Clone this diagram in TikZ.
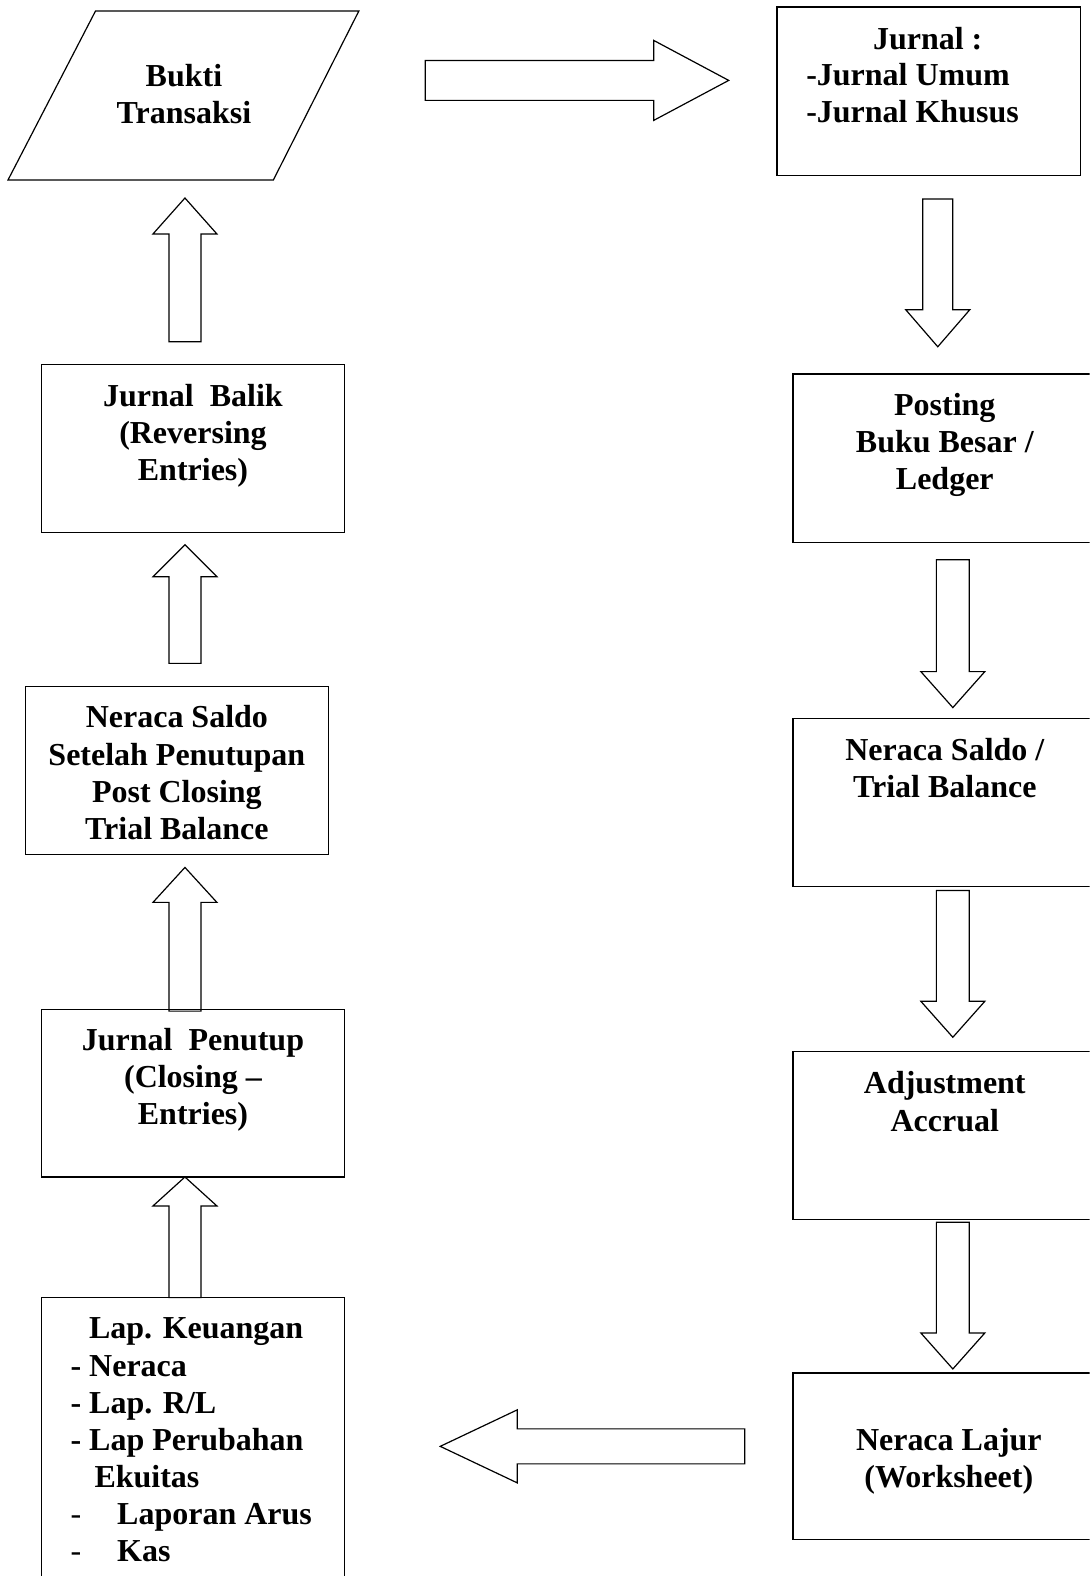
\documentclass[tikz,border=0pt]{standalone}
\usepackage{fontspec}
\setmainfont{Liberation Serif}
\usetikzlibrary{calc,fit}
\newcommand\blockarrow[5]{%
  \coordinate (#1-n) at ($(#2)!#5!(#1)$);
  \draw[barrow] ($(#1)!#3!90:(#2)$) -- ($(#1-n)!#3!90:(#2)$) -- ($(#1-n)!#4!90:(#2)$)
    -- (#2) -- ($(#1-n)!#4!-90:(#2)$) -- ($(#1-n)!#3!-90:(#2)$) -- ($(#1)!#3!-90:(#2)$) -- cycle;}
\begin{document}
\begin{tikzpicture}[x=1.0055pt,y=-1.0055pt,
  box/.style={draw=black,line width=1.2pt,rectangle,inner sep=0pt},
  barrow/.style={draw=black,fill=white,line width=1.2pt,line join=miter},
  txt/.style={font=\fontsize{32}{37.2}\selectfont\bfseries,inner sep=0pt,align=center,anchor=north}]
\useasboundingbox (0,0) rectangle (1084,1568);
\clip (0,0) rectangle (1084,1568);
% arrows
\coordinate (ar) at (423,80);   \coordinate (arh) at (725,80);
\coordinate (ad1) at (933,198); \coordinate (ad1h) at (933,345);
\coordinate (ad2) at (948,557); \coordinate (ad2h) at (948,704);
\coordinate (ad3) at (948,886); \coordinate (ad3h) at (948,1032);
\coordinate (ad4) at (948,1216);\coordinate (ad4h) at (948,1362);
\coordinate (al) at (741,1439); \coordinate (alh) at (438,1439);
\coordinate (au1) at (184,1291);\coordinate (au1h) at (184,1171);
\coordinate (au2) at (184,1006);\coordinate (au2h) at (184,863);
\coordinate (au3) at (184,660); \coordinate (au3h) at (184,542);
\coordinate (au4) at (184,340); \coordinate (au4h) at (184,197);
\blockarrow{ar}{arh}{20pt}{40pt}{75pt}
\blockarrow{ad1}{ad1h}{15pt}{32pt}{37pt}
\blockarrow{ad2}{ad2h}{16.5pt}{32pt}{36pt}
\blockarrow{ad3}{ad3h}{16.5pt}{32pt}{36pt}
\blockarrow{ad4}{ad4h}{16.5pt}{32pt}{36pt}
\blockarrow{al}{alh}{17.5pt}{36.5pt}{77pt}
\blockarrow{au1}{au1h}{16pt}{32pt}{29pt}
\blockarrow{au2}{au2h}{16pt}{32pt}{35pt}
\blockarrow{au3}{au3h}{16pt}{32pt}{32pt}
\blockarrow{au4}{au4h}{16pt}{32pt}{36pt}
% parallelogram
\coordinate (p1) at (95,11); \coordinate (p2) at (357,11);
\coordinate (p3) at (272,179); \coordinate (p4) at (8,179);
\draw[line width=1.2pt] (p1) -- (p2) -- (p3) -- (p4) -- cycle;
\node[txt] (bukti) at (183,64) {Bukti\\Transaksi};
% boxes
\node[box,fit={(773,7) (1075,175)}] (jb) {};
\node[box,fit={(789,372) (1100,540)}] (pb) {};
\node[box,fit={(789,715) (1100,882)}] (tb) {};
\node[box,fit={(789,1046) (1100,1213)}] (ab) {};
\node[box,fit={(789,1366) (1100,1532)}] (lb) {};
\node[box,fit={(41,1291) (343,1600)}] (kb) {};
\node[box,fit={(41,1004) (343,1171)}] (cb) {};
\node[box,fit={(25,683) (327,850)}] (sb) {};
\node[box,fit={(41,363) (343,530)}] (rb) {};
% texts
\node[txt] (jt) at (923,27) {Jurnal :};
\node[txt,anchor=north west,align=left] (jl) at (802,63) {-Jurnal Umum\\-Jurnal Khusus};
\node[txt] (pt) at (940,391) {Posting\\Buku Besar /\\Ledger};
\node[txt] (tt) at (940,734) {Neraca Saldo /\\Trial Balance};
\node[txt] (at) at (940,1066) {Adjustment\\Accrual};
\node[txt] (lt) at (944,1421) {Neraca Lajur\\(Worksheet)};
\node[txt] (ct) at (192,1023) {Jurnal\ \ Penutup\\(Closing --\\Entries)};
\node[txt] (st) at (176,702) {Neraca Saldo\\Setelah Penutupan\\Post Closing\\Trial Balance};
\node[txt] (rt) at (192,382) {Jurnal\ \ Balik\\(Reversing\\Entries)};
\node[txt,anchor=north west,align=left] (kt) at (70,1311) {\hspace{18.5pt}Lap. Keuangan\\- Neraca\\- Lap. R/L\\- Lap Perubahan\\\hspace{24pt}Ekuitas\\{\mdseries -}\hspace{36pt}Laporan Arus\\{\mdseries -}\hspace{36pt}Kas};
\end{tikzpicture}
\end{document}
